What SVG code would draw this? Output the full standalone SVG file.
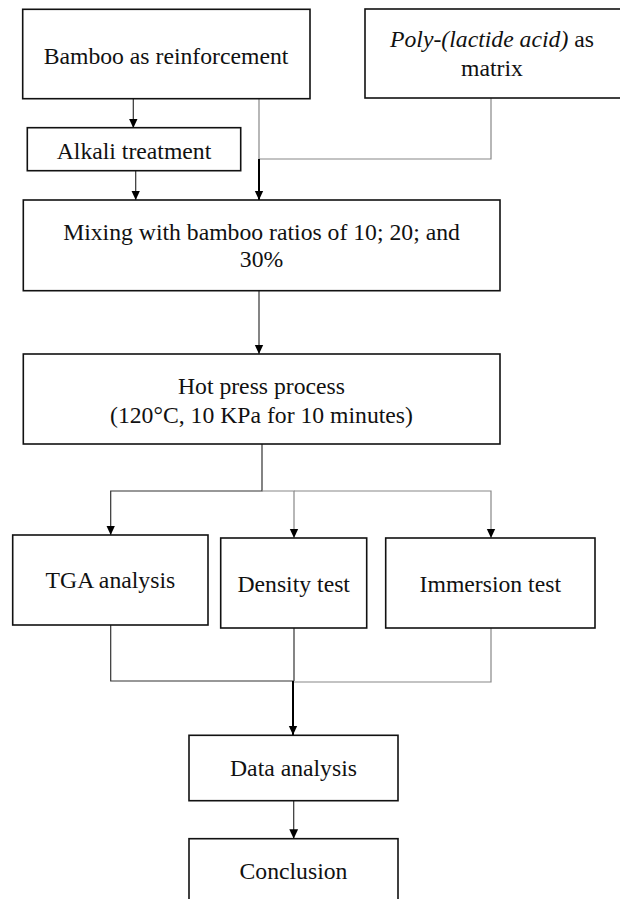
<svg xmlns="http://www.w3.org/2000/svg" width="620" height="899" viewBox="0 0 620 899">
<defs>
<marker id="ah" markerUnits="userSpaceOnUse" markerWidth="10" markerHeight="10" viewBox="0 0 10 10" refX="9.5" refY="5" orient="auto">
<path d="M0,0.6 L9.5,5 L0,9.4 Z" fill="#000"/>
</marker>
</defs>
<style>
.box{fill:#fff;stroke:#111;stroke-width:1.6}
.t{font-family:'Liberation Serif','DejaVu Serif',serif;font-size:23.7px;fill:#111;text-anchor:middle}
.c{fill:none;stroke:#333;stroke-width:1.2}
.g{fill:none;stroke:#888;stroke-width:1.2}
.k{fill:none;stroke:#000;stroke-width:2}
</style>
<rect x="0" y="0" width="620" height="899" fill="#fff"/>
<g id="connectors">
<line class="c" x1="133.3" y1="99" x2="133.3" y2="128" marker-end="url(#ah)"/>
<line class="c" x1="135.7" y1="171" x2="135.7" y2="200" marker-end="url(#ah)"/>
<polyline class="g" points="259,99 259,159"/>
<polyline class="g" points="491,98 491,159 259,159"/>
<line class="k" x1="259" y1="159" x2="259" y2="200" marker-end="url(#ah)"/>
<line class="c" x1="259" y1="291" x2="259" y2="354" marker-end="url(#ah)"/>
<polyline class="c" points="262,444 262,491 110.7,491 110.7,535" marker-end="url(#ah)"/>
<polyline class="g" points="262,491 294,491 294,538" marker-end="url(#ah)"/>
<polyline class="g" points="294,491 491,491 491,538" marker-end="url(#ah)"/>
<polyline class="c" points="110.7,625 110.7,681 294,681"/>
<line class="c" x1="294" y1="628" x2="294" y2="681"/>
<polyline class="g" points="491,628 491,682 294,682"/>
<line class="k" x1="293" y1="681" x2="293" y2="735" marker-end="url(#ah)"/>
<line class="c" x1="293.7" y1="801" x2="293.7" y2="838.7" marker-end="url(#ah)"/>
</g>
<g id="bamboo">
<rect class="box" x="22.7" y="9.3" width="287.3" height="89.4"/>
<text class="t" x="166" y="64">Bamboo as reinforcement</text>
</g>
<g id="pla">
<rect class="box" x="365" y="9" width="262" height="89"/>
<text class="t" x="492" y="47"><tspan font-style="italic">Poly-(lactide acid)</tspan> as</text>
<text class="t" x="492" y="76">matrix</text>
</g>
<g id="alkali">
<rect class="box" x="27.3" y="127.7" width="213.4" height="43"/>
<text class="t" x="134" y="159">Alkali treatment</text>
</g>
<g id="mixing">
<rect class="box" x="23.3" y="200" width="476.7" height="90.7"/>
<text class="t" x="261.5" y="240">Mixing with bamboo ratios of 10; 20; and</text>
<text class="t" x="261.5" y="267">30%</text>
</g>
<g id="hotpress">
<rect class="box" x="23.3" y="354" width="476.7" height="90"/>
<text class="t" x="261.5" y="394">Hot press process</text>
<text class="t" x="261.5" y="423">(120°C, 10 KPa for 10 minutes)</text>
</g>
<g id="tga">
<rect class="box" x="12.7" y="535" width="195.3" height="90"/>
<text class="t" x="110.4" y="588">TGA analysis</text>
</g>
<g id="density">
<rect class="box" x="220.7" y="538" width="146" height="90"/>
<text class="t" x="293.7" y="592">Density test</text>
</g>
<g id="immersion">
<rect class="box" x="385.7" y="538" width="209.3" height="90"/>
<text class="t" x="490.3" y="592">Immersion test</text>
</g>
<g id="data">
<rect class="box" x="189" y="735.3" width="209" height="65.4"/>
<text class="t" x="293.5" y="776">Data analysis</text>
</g>
<g id="conclusion">
<rect class="box" x="189" y="838.7" width="209" height="80"/>
<text class="t" x="293.5" y="879">Conclusion</text>
</g>
</svg>
